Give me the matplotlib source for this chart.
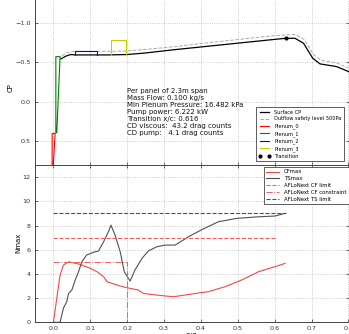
import matplotlib
matplotlib.use("Agg")
import matplotlib.pyplot as plt

# ---------------- data ----------------
surf_s = [0.020, 0.034, 0.047, 0.060, 0.10, 0.15, 0.20, 0.25, 0.325, 0.40, 0.50, 0.60,
          0.63, 0.655, 0.678, 0.703, 0.723, 0.768, 0.80]
surf_cp = [-0.544, -0.58, -0.60, -0.595, -0.595, -0.595, -0.60, -0.62, -0.66, -0.696, -0.744,
           -0.792, -0.806, -0.806, -0.743, -0.553, -0.481, -0.447, -0.384]

safe_s = [0.023, 0.035, 0.054, 0.10, 0.15, 0.20, 0.25, 0.33, 0.40, 0.50, 0.60, 0.655,
          0.68, 0.705, 0.725, 0.77, 0.80]
safe_cp = [-0.58, -0.62, -0.64, -0.64, -0.64, -0.645, -0.665, -0.70, -0.74, -0.79, -0.84,
           -0.855, -0.79, -0.60, -0.53, -0.49, -0.43]

plen0_s = [-0.0035, -0.0035, 0.0046, -0.001]
plen0_cp = [0.85, 0.40, 0.40, 0.85]
plen1_s = [0.0065, 0.0065, 0.018, 0.009]
plen1_cp = [0.39, -0.573, -0.573, 0.39]
plen2_s = [0.059, 0.059, 0.118, 0.118]
plen2_cp = [-0.595, -0.645, -0.645, -0.595]
plen3_s = [0.157, 0.157, 0.197, 0.197]
plen3_cp = [-0.595, -0.785, -0.785, -0.595]

trans_s = [0.63]
trans_cp = [-0.806]

cf_s = [0.0, 0.009, 0.018, 0.027, 0.041, 0.072, 0.10, 0.118, 0.136, 0.145, 0.172, 0.199,
        0.23, 0.244, 0.28, 0.325, 0.40, 0.42, 0.465, 0.51, 0.556, 0.60, 0.628]
cf_n = [0.0, 1.98, 3.9, 4.73, 5.0, 4.79, 4.46, 4.18, 3.77, 3.36, 3.08, 2.86,
        2.67, 2.39, 2.25, 2.11, 2.45, 2.53, 2.94, 3.49, 4.18, 4.59, 4.87]

ts_s = [0.0, 0.018, 0.027, 0.036, 0.041, 0.05, 0.059, 0.068, 0.077, 0.09, 0.108, 0.122,
        0.136, 0.149, 0.156, 0.167, 0.181, 0.192, 0.208, 0.221, 0.24, 0.257, 0.28, 0.303,
        0.33, 0.366, 0.40, 0.447, 0.497, 0.556, 0.60, 0.628]
ts_n = [0, 0, 1.16, 1.70, 2.39, 2.67, 3.49, 4.18, 5.0, 5.56, 5.78, 5.89,
        6.66, 7.48, 8.03, 7.21, 5.83, 4.18, 3.41, 4.32, 5.28, 5.89, 6.24, 6.38,
        6.38, 7.07, 7.62, 8.31, 8.59, 8.72, 8.78, 9.0]

cf_limit_s = [0.0, 0.60]
cf_limit_n = [7, 7]
cf_con_s = [0.0, 0.2, 0.2]
cf_con_n = [5, 5, 0]
ts_limit_s = [0.0, 0.63]
ts_limit_n = [9, 9]

info_lines = ["Per panel of 2.3m span",
              "Mass Flow: 0.100 kg/s",
              "Min Plenum Pressure: 16.482 kPa",
              "Pump power: 6.222 kW",
              "Transition x/c: 0.616",
              "CD viscous:  43.2 drag counts",
              "CD pump:   4.1 drag counts"]

# ---------------- figure ----------------
W, H = 349, 334
fig = plt.figure(figsize=(W / 100, H / 100), dpi=100)
plt.rcParams['font.family'] = ['DejaVu Sans']

def fx(px):
    return px / W

def fy(py):
    return 1 - py / H

left = fx(35)
width = fx(348.5) - left
top_px = -5
ax1 = fig.add_axes([left, fy(165), width, fy(top_px) - fy(165)])
ax2 = fig.add_axes([left, fy(322.3), width, fy(165) - fy(322.3)], sharex=ax1)

tick_color = '#333333'
for ax in (ax1, ax2):
    ax.grid(True, linestyle=':', color='#bbbbbb', linewidth=0.6)
    ax.tick_params(direction='in', top=True, right=True, length=2.5, width=0.5,
                   labelsize=4.6, colors=tick_color, pad=3)
    for sp in ax.spines.values():
        sp.set_linewidth(0.7)
        sp.set_color('#444444')

# top panel
ax1.plot(surf_s, surf_cp, color='black', lw=0.9, label='Surface CP')
ax1.plot(safe_s, safe_cp, color='#aaaaaa', lw=0.7, ls='--', label='Outflow safety level 500Pa')
ax1.plot(plen0_s, plen0_cp, color='red', lw=0.8, label='Plenum_0')
ax1.plot(plen1_s, plen1_cp, color='green', lw=0.8, label='Plenum_1')
ax1.plot(plen2_s, plen2_cp, color='blue', lw=0.8, label='Plenum_2')
ax1.plot(plen3_s, plen3_cp, color='#cccc00', lw=0.8, label='Plenum_3')
ax1.plot(trans_s, trans_cp, 'o', color='black', ms=2, ls='none', label='Transition')
ax1.set_xlim(-0.05, 0.8)
ax1.set_ylim(0.8, -1.0 - (23 - top_px) / 79.0)
ax1.set_yticks([-1.0, -0.5, 0.0, 0.5])
ax1.set_yticklabels(['\u22121.0', '\u22120.5', '0.0', '0.5'])
ax1.set_ylabel('CP', fontsize=5)
ax1.yaxis.set_label_coords(fx(14), fy(88), transform=fig.transFigure)
plt.setp(ax1.get_xticklabels(), visible=False)

ax1.text(0.2, -0.175, "\n".join(info_lines), fontsize=5.0, color='#111111',
         va='top', ha='left', linespacing=1.2)

leg1 = ax1.legend(loc='upper left', bbox_to_anchor=(fx(256), fy(107)),
                  bbox_transform=fig.transFigure, fontsize=3.6, numpoints=2,
                  handlelength=2.4, labelspacing=0.38, borderpad=0.5,
                  handletextpad=0.8, fancybox=False, framealpha=1, borderaxespad=0)
leg1.get_frame().set_linewidth(0.6)
leg1.get_frame().set_edgecolor('#444444')

# bottom panel
ax2.plot(cf_s, cf_n, color='#f04848', lw=0.8, label='CFmax')
ax2.plot(ts_s, ts_n, color='#505050', lw=0.8, label='TSmax')
ax2.plot(cf_limit_s, cf_limit_n, color='#f06060', lw=0.8, ls='--', label='AFLoNext CF limit')
ax2.plot(cf_con_s, cf_con_n, color='#f06060', lw=0.7, ls='-.', label='AFLoNext CF constraint')
ax2.plot(ts_limit_s, ts_limit_n, color='#505050', lw=0.8, ls='--', label='AFLoNext TS limit')
ax2.set_ylim(0, 13)
ax2.set_yticks([0, 2, 4, 6, 8, 10, 12])
ax2.set_xticks([0.0, 0.1, 0.2, 0.3, 0.4, 0.5, 0.6, 0.7, 0.8])
ax2.set_ylabel('Nmax', fontsize=5)
ax2.yaxis.set_label_coords(fx(21), fy(243), transform=fig.transFigure)
ax2.set_xlabel('S/C', fontsize=5, labelpad=1)

leg2 = ax2.legend(loc='upper left', bbox_to_anchor=(fx(264), fy(167)),
                  bbox_transform=fig.transFigure, fontsize=3.9,
                  handlelength=2.4, labelspacing=0.35, borderpad=0.45,
                  handletextpad=0.8, fancybox=False, framealpha=1, borderaxespad=0)
leg2.get_frame().set_linewidth(0.6)
leg2.get_frame().set_edgecolor('#444444')

fig.savefig('out.png', dpi=100)
